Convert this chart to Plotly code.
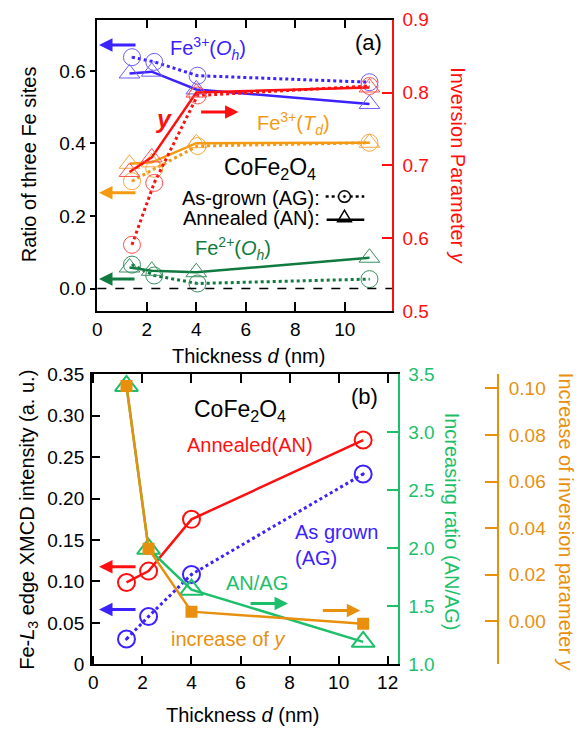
import plotly.graph_objects as go

W, H = 583, 738
def px(x): return x / W
def py(y): return 1 - y / H

FONT = "Liberation Sans, Arial, sans-serif"

# ---------------- data: panel (a) ----------------
d_ag = [1.4, 2.3, 4.05, 11.0]
d_an = [1.3, 2.2, 4.0, 11.0]
fe3_oh_ag = [0.638, 0.625, 0.587, 0.569]
fe3_oh_an = [0.593, 0.598, 0.549, 0.509]
fe3_td_ag = [0.296, 0.330, 0.393, 0.402]
fe3_td_an = [0.344, 0.348, 0.401, 0.402]
fe2_oh_ag = [0.066, 0.036, 0.014, 0.026]
fe2_oh_an = [0.058, 0.049, 0.045, 0.085]
inv_ag = [0.591, 0.676, 0.796, 0.809]
inv_an = [0.691, 0.711, 0.800, 0.807]

# ---------------- data: panel (b) ----------------
d_b = [1.35, 2.25, 4.0, 11.0]
xmcd_an = [0.0988, 0.1125, 0.175, 0.2707]
xmcd_ag = [0.0305, 0.0578, 0.1085, 0.2297]
ratio_an_ag = [3.40, 1.996, 1.644, 1.194]
inc_y = [0.101, 0.0312, 0.0042, -0.001]

b_left_tickvals = [0, 0.05, 0.10, 0.15, 0.20, 0.25, 0.30, 0.35]
b_left_ticktext = ["0", "0.05", "0.10", "0.15", "0.20", "0.25", "0.30", "0.35"]

BLUE = "#3b22ff"
BLUE_M = "#6a5cff"
RED = "#ff1010"
RED_M = "#ff5050"
ORANGE = "#f39a12"
ORANGE_M = "#f3a840"
DGREEN = "#117a40"
DGREEN_M = "#3a9060"
GREEN = "#1dbf6a"
ORANGE_B = "#e8900e"

TICK = 19
LBL = 20

fig = go.Figure()

def pair(x_ag, y_ag, x_an, y_an, col, mcol, yax):
    fig.add_trace(go.Scatter(x=x_ag, y=y_ag, mode="lines+markers", xaxis="x", yaxis=yax,
                             line=dict(color=col, width=3, dash="dot"),
                             marker=dict(symbol="circle-open-dot", size=17, color=mcol,
                                         line=dict(color=mcol, width=1)),
                             showlegend=False))
    fig.add_trace(go.Scatter(x=x_an, y=y_an, mode="lines+markers", xaxis="x", yaxis=yax,
                             line=dict(color=col, width=2.5),
                             marker=dict(symbol="triangle-up-open", size=18, color=mcol,
                                         line=dict(color=mcol, width=1)),
                             showlegend=False))

pair(d_ag, fe2_oh_ag, d_an, fe2_oh_an, DGREEN, DGREEN_M, "y")
pair(d_ag, fe3_td_ag, d_an, fe3_td_an, ORANGE, ORANGE_M, "y")
pair(d_ag, fe3_oh_ag, d_an, fe3_oh_an, BLUE, BLUE_M, "y")
pair(d_ag, inv_ag, d_an, inv_an, RED, RED_M, "y2")

# panel (b)
fig.add_trace(go.Scatter(x=d_b, y=xmcd_an, mode="lines+markers", xaxis="x2", yaxis="y3",
                         line=dict(color=RED, width=2.5),
                         marker=dict(symbol="circle-open", size=17, color=RED, line=dict(color=RED, width=2)),
                         showlegend=False))
fig.add_trace(go.Scatter(x=d_b, y=xmcd_ag, mode="lines+markers", xaxis="x2", yaxis="y3",
                         line=dict(color=BLUE, width=3, dash="dot"),
                         marker=dict(symbol="circle-open-dot", size=17, color=BLUE, line=dict(color=BLUE, width=2)),
                         showlegend=False))
fig.add_trace(go.Scatter(x=d_b, y=ratio_an_ag, mode="lines+markers", xaxis="x2", yaxis="y4",
                         line=dict(color=GREEN, width=2.5),
                         marker=dict(symbol="triangle-up-open", size=20, color=GREEN, line=dict(color=GREEN, width=2)),
                         showlegend=False))
fig.add_trace(go.Scatter(x=d_b, y=inc_y, mode="lines+markers", xaxis="x2", yaxis="y5",
                         line=dict(color=ORANGE_B, width=2.5),
                         marker=dict(symbol="square", size=12, color=ORANGE_B),
                         showlegend=False))

tf = dict(family=FONT, size=TICK, color="black")

# domains
xa_dom = [px(93.3), px(391)]
ya_dom = [py(310), py(10)]
xb_dom = [px(87.7), px(396.7)]
yb_dom = [py(673.5), py(375)]

common_x = dict(showgrid=False, zeroline=False, showline=True, linecolor="black", linewidth=1.5,
                ticks="inside", ticklen=9, tickwidth=1.5, tickcolor="black", mirror="ticks",
                dtick=2, tick0=0, tickfont=tf)

fig.update_layout(
    width=W, height=H, margin=dict(l=0, r=0, t=0, b=0),
    paper_bgcolor="white", plot_bgcolor="white", font=dict(family=FONT),
    xaxis=dict(domain=xa_dom, range=[0, 11.91], anchor="y", **common_x),
    yaxis=dict(domain=ya_dom, range=[-0.0624, 0.7413], anchor="x", showgrid=False, zeroline=False,
               showline=True, linecolor="black", linewidth=1.5, ticks="outside", ticklen=6,
               tickwidth=1.5, tickcolor="black", dtick=0.2, tick0=0, tickformat=".1f", tickfont=tf,
               ticklabelstandoff=0),
    yaxis2=dict(overlaying="y", side="right", anchor="x", range=[0.4999, 0.9], showgrid=False,
                zeroline=False, showline=True, linecolor=RED, linewidth=1.5, ticks="inside",
                ticklen=10, tickwidth=1.5, tickcolor=RED, dtick=0.1, tick0=0.5, tickformat=".1f",
                tickfont=dict(family=FONT, size=TICK, color=RED), ticklabelstandoff=5),
    xaxis2=dict(domain=xb_dom, range=[-0.065, 12.405], anchor="y3", **common_x),
    yaxis3=dict(domain=yb_dom, range=[0, 0.35], anchor="x2", showgrid=False, zeroline=False,
                showline=True, linecolor="black", linewidth=1.5, ticks="inside", ticklen=8,
                tickwidth=1.5, tickcolor="black", tickvals=b_left_tickvals, ticktext=b_left_ticktext,
                tickfont=tf, ticklabelstandoff=2),
    yaxis4=dict(overlaying="y3", side="right", anchor="x2", range=[1.0, 3.5], showgrid=False,
                zeroline=False, showline=True, linecolor=GREEN, linewidth=1.5, ticks="inside",
                ticklen=11, tickwidth=1.5, tickcolor=GREEN, dtick=0.5, tick0=1.0, tickformat=".1f",
                tickfont=dict(family=FONT, size=TICK, color=GREEN), ticklabelstandoff=5),
    yaxis5=dict(overlaying="y3", side="right", anchor="free", position=px(498.3),
                range=[-0.0184, 0.106], showgrid=False, zeroline=False, showline=True,
                linecolor=ORANGE_B, linewidth=1.5, ticks="inside", ticklen=12, tickwidth=1.5,
                tickcolor=ORANGE_B, dtick=0.02, tick0=0, tickformat=".2f",
                tickfont=dict(family=FONT, size=TICK, color=ORANGE_B), ticklabelstandoff=6),
)

# dashed zero line in (a)
fig.add_shape(type="line", xref="x domain", x0=0, x1=1, yref="y", y0=0, y1=0,
              line=dict(color="black", width=1.5, dash="dash"))

ann = []
def txt(x, y, s, color="black", size=LBL, xanchor="center", yanchor="middle", angle=0, align="center"):
    ann.append(dict(x=px(x), y=py(y), xref="paper", yref="paper", text=s, showarrow=False,
                    font=dict(family=FONT, size=size, color=color), xanchor=xanchor,
                    yanchor=yanchor, textangle=angle, align=align))

def arrow(x_tail, x_head, y, color):
    ann.append(dict(x=px(x_head), y=py(y), xref="paper", yref="paper", ax=x_tail - x_head, ay=0,
                    axref="pixel", ayref="pixel", text="", showarrow=True, arrowhead=2,
                    arrowsize=0.9, arrowwidth=3, arrowcolor=color))

# axis titles
txt(25, 159, "Ratio of three Fe sites", angle=-90)
txt(457, 160, "Inversion Parameter <i>y</i>", color=RED, angle=90)
txt(246, 356, "Thickness <i>d</i> (nm)")
txt(23, 525, "Fe-<i>L</i><sub>3</sub> edge XMCD intensity (a. u.)", angle=-90)
txt(452, 527, "Increasing ratio (AN/AG)", color=GREEN, angle=90)
txt(567, 527, "Increase of inversion parameter <i>y</i>", color=ORANGE_B, angle=90)
txt(240, 726, "Thickness <i>d</i> (nm)")

# panel (a) labels
txt(205, 40, "Fe<sup>3+</sup>(<i>O<sub>h</sub></i>)", color=BLUE)
txt(160, 112, "<b><i>y</i></b>", color=RED, size=25)
txt(291, 117, "Fe<sup>3+</sup>(<i>T<sub>d</sub></i>)", color=ORANGE)
txt(268, 163, "CoFe<sub>2</sub>O<sub>4</sub>", size=23)
txt(320, 193, "As-grown (AG):", xanchor="right")
txt(320, 214, "Annealed (AN):", xanchor="right")
txt(230, 245, "Fe<sup>2+</sup>(<i>O<sub>h</sub></i>)", color=DGREEN)
txt(367, 33, "(a)", size=22)
arrow(133, 95, 36, BLUE)
arrow(197, 236, 105, RED)
arrow(133, 95, 188, ORANGE)
arrow(132, 95, 277, DGREEN)

# panel (b) labels
txt(237, 412, "CoFe<sub>2</sub>O<sub>4</sub>", size=23)
txt(248, 448, "Annealed(AN)", color=RED)
txt(291, 551, "As grown<br>(AG)", color=BLUE, xanchor="left", align="left")
txt(255, 590, "AN/AG", color=GREEN)
txt(225, 647, "increase of <i>y</i>", color=ORANGE_B)
txt(363, 398, "(b)", size=22)
arrow(133, 95, 573, RED)
arrow(133, 95, 617, BLUE)
arrow(247, 286, 611, GREEN)
arrow(320, 359, 618, ORANGE_B)

fig.update_layout(annotations=ann)

# legend samples in (a)
fig.add_shape(type="line", xref="paper", yref="paper", x0=px(324), x1=px(363), y0=py(192), y1=py(192),
              line=dict(color="black", width=2.5, dash="dot"))
fig.add_shape(type="circle", xref="paper", yref="paper", x0=px(337), x1=px(349), y0=py(198), y1=py(186),
              line=dict(color="black", width=1.5), fillcolor="white")
fig.add_shape(type="circle", xref="paper", yref="paper", x0=px(341.8), x1=px(344.2), y0=py(193.2), y1=py(190.8),
              line=dict(color="black", width=0.5), fillcolor="black")
fig.add_shape(type="line", xref="paper", yref="paper", x0=px(325), x1=px(363), y0=py(216), y1=py(216),
              line=dict(color="black", width=2.5))
fig.add_shape(type="path", xref="paper", yref="paper",
              path=f"M {px(336)},{py(218)} L {px(350)},{py(218)} L {px(343)},{py(206)} Z",
              line=dict(color="black", width=1.5), fillcolor="rgba(0,0,0,0)")

fig.write_html("out.html")
